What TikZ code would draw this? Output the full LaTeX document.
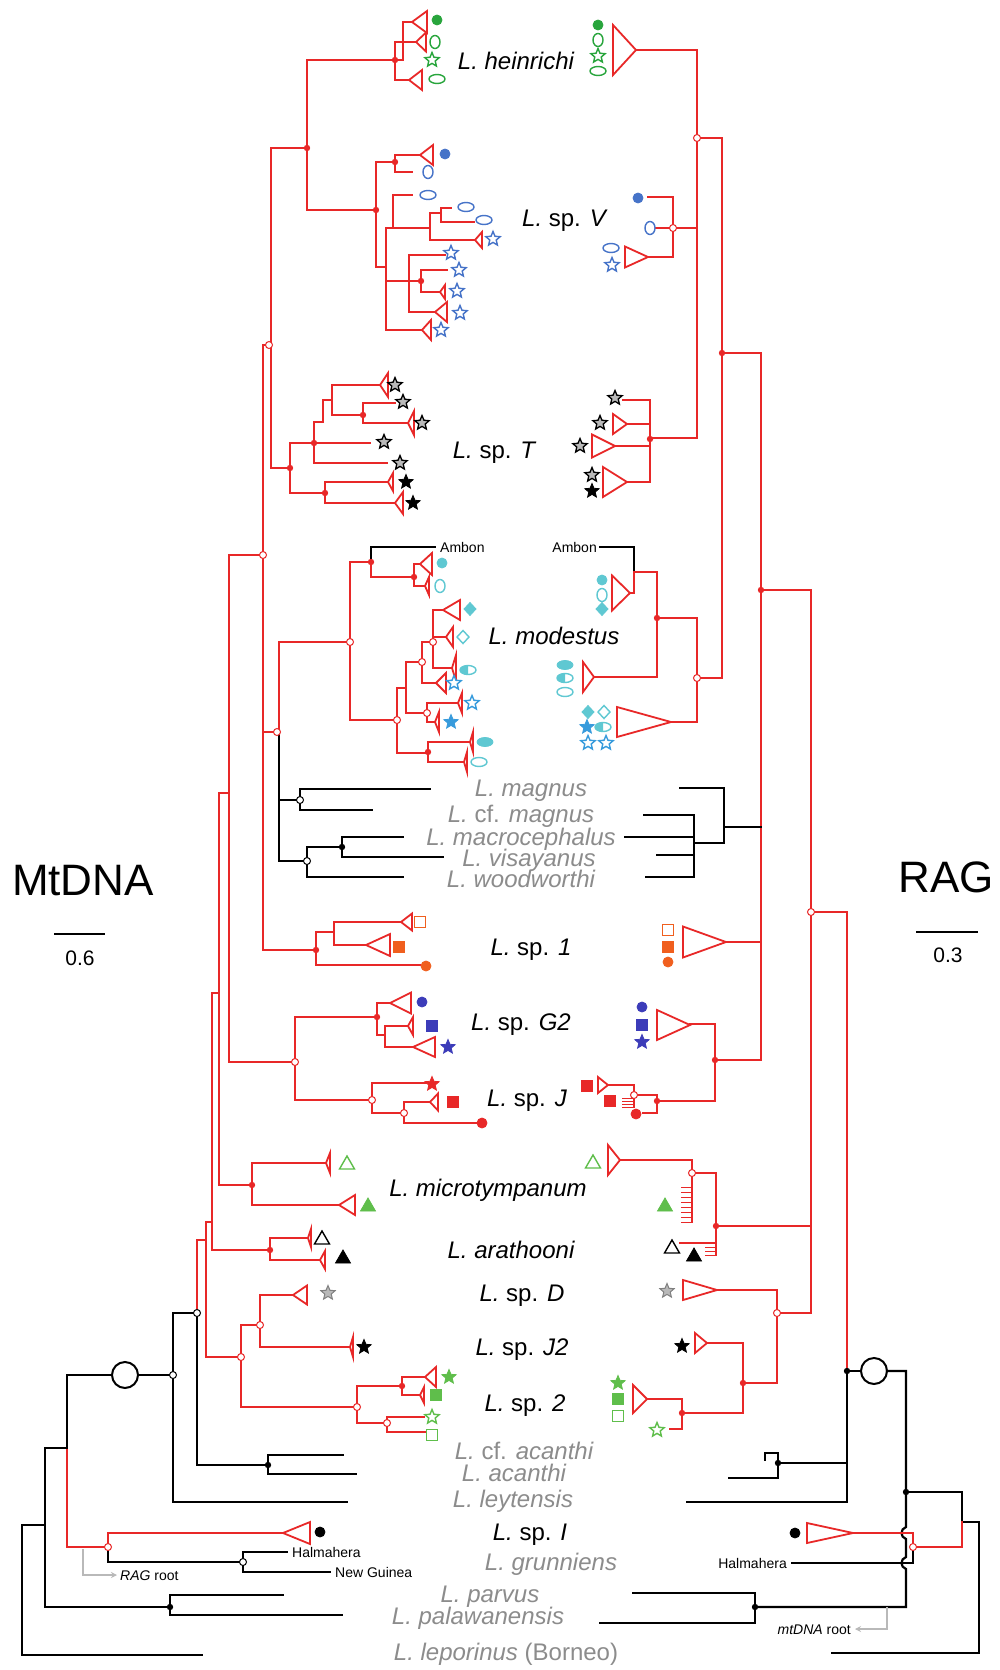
\documentclass[tikz,border=0pt]{standalone}
\usepackage{fontspec}
\setmainfont{Liberation Sans}
\usepackage{xcolor}
\usepackage{tikz}
\usetikzlibrary{arrows.meta}
\definecolor{phred}{RGB}{232,40,40}
\definecolor{phgreen}{RGB}{40,165,60}
\definecolor{phlgreen}{RGB}{95,190,75}
\definecolor{phblue}{RGB}{70,115,200}
\definecolor{phdblue}{RGB}{60,60,185}
\definecolor{phcyan}{RGB}{95,200,210}
\definecolor{phsky}{RGB}{55,155,220}
\definecolor{phorange}{RGB}{240,95,30}
\definecolor{phgry}{RGB}{140,140,140}
\definecolor{phlgray}{RGB}{185,185,185}
\tikzset{
  phbr/.style={draw=phred, line width=1.8pt, line cap=rect, line join=miter},
  phbk/.style={draw=black, line width=2.2pt, line cap=rect, line join=miter},
  phclade/.style={draw=phred, fill=white, line width=1.8pt, line join=miter},
  phlab/.style={font=\fontsize{24}{24}\selectfont, inner sep=0pt, anchor=base, yshift=-8.6pt},
  phglab/.style={phlab, text=phgry},
  phsmall/.style={font=\fontsize{14}{14}\selectfont, inner sep=0pt, yshift=-5pt},
  phbig/.style={font=\fontsize{44}{44}\selectfont, inner sep=0pt, anchor=base, yshift=-15.8pt},
  phnum/.style={font=\fontsize{21}{21}\selectfont, inner sep=0pt, anchor=base, yshift=-7.5pt},
  phopen/.style={draw=#1, fill=white, line width=1.4pt},
  phfull/.style={draw=#1, fill=#1, line width=0.8pt},
  phgstar/.style={draw=black, fill=phlgray, line width=1.3pt},
  pharrow/.style={draw=phlgray, line width=1.6pt, -{Stealth[length=6pt,width=6pt]}},
}
% clades: apex, width, height
\newcommand{\cladeL}[4]{\draw[phclade] (#1,#2) -- (#1+#3,#2-#4/2) -- (#1+#3,#2+#4/2) -- cycle;}
\newcommand{\cladeR}[4]{\draw[phclade] (#1,#2) -- (#1-#3,#2-#4/2) -- (#1-#3,#2+#4/2) -- cycle;}
% branch nodes
\newcommand{\nF}[2]{\fill[phred] (#1,#2) circle (3.2);}
\newcommand{\nO}[2]{\filldraw[fill=white, draw=phred, line width=1pt] (#1,#2) circle (3.5);}
\newcommand{\kF}[2]{\fill[black] (#1,#2) circle (3.2);}
\newcommand{\kO}[2]{\filldraw[fill=white, draw=black, line width=1pt] (#1,#2) circle (3.5);}
% tip symbols
\newcommand{\mStar}[3]{\path[#3, shift={(#1,#2)}, scale=7.5] (-90:1) -- (-54:0.45) -- (-18:1) -- (18:0.45) -- (54:1) -- (90:0.45) -- (126:1) -- (162:0.45) -- (198:1) -- (234:0.45) -- cycle;}
\newcommand{\mCirc}[3]{\path[#3] (#1,#2) circle (5);}
\newcommand{\mOval}[3]{\path[#3] (#1,#2) ellipse (5 and 6.5);}
\newcommand{\mEll}[3]{\path[#3] (#1,#2) ellipse (8 and 4.5);}
\newcommand{\mSq}[3]{\path[#3] (#1-5.5,#2-5.5) rectangle (#1+5.5,#2+5.5);}
\newcommand{\mTri}[3]{\path[#3] (#1,#2-7) -- (#1+7.5,#2+6) -- (#1-7.5,#2+6) -- cycle;}
\newcommand{\mDia}[3]{\path[#3] (#1,#2-6.5) -- (#1+6,#2) -- (#1,#2+6.5) -- (#1-6,#2) -- cycle;}
\newcommand{\mHalf}[2]{\begin{scope}\clip (#1-9,#2-6) rectangle (#1,#2+6); \fill[phcyan] (#1,#2) ellipse (8 and 4.5);\end{scope}\draw[phcyan, line width=1.4pt] (#1,#2) ellipse (8 and 4.5);}

\begin{document}
\begin{tikzpicture}[x=1pt, y=-1pt]
\fill[white] (0,0) rectangle (999,1670);
\useasboundingbox (0,0) rectangle (999,1670);

% ===== MtDNA tree =====
\draw[phbr] (307,148) -- (271,148) -- (271,468) -- (290,468);
\draw[phbr] (412,22) -- (403,22) -- (403,60) -- (307,60) -- (307,210) -- (376,210);
\draw[phbr] (416,42) -- (395,42) -- (395,80) -- (409,80);
\draw[phbr] (271,345) -- (263,345) -- (263,950) -- (316,950);
\draw[phbr] (263,555) -- (229,555) -- (229,1062) -- (295,1062);
\draw[phbr] (229,793) -- (219,793) -- (219,1185) -- (252,1185);
\draw[phbr] (219,993) -- (212,993) -- (212,1250) -- (270,1250);
\draw[phbr] (212,1222) -- (206,1222) -- (206,1357) -- (241,1357);
\draw[phbr] (206,1240) -- (197,1240) -- (197,1313);
\draw[phbr] (263,732) -- (279,732) -- (279,642) -- (350,642);
\nO{269}{345} \nO{263}{555}
% heinrichi
\cladeL{412}{22}{15}{22} \cladeL{416}{42}{10}{19} \cladeL{409}{80}{13}{20}
\nF{395}{60} \nF{307}{148}
\mCirc{437}{20}{phfull=phgreen} \mOval{435}{42}{phopen=phgreen}
\mStar{432}{60}{phopen=phgreen} \mEll{437}{79}{phopen=phgreen}
% sp V
\draw[phbr] (420,155) -- (395,155) -- (395,172) -- (412,172);
\draw[phbr] (395,162) -- (376,162) -- (376,267) -- (386,267);
\draw[phbr] (386,228) -- (386,330) -- (422,330);
\draw[phbr] (386,228) -- (430,228);
\draw[phbr] (412,195) -- (393,195) -- (393,228);
\draw[phbr] (430,213) -- (430,240) -- (475,240);
\draw[phbr] (430,213) -- (441,213);
\draw[phbr] (451,208) -- (441,208) -- (441,222) -- (474,222);
\draw[phbr] (386,281) -- (421,281);
\draw[phbr] (445,255) -- (409,255) -- (409,312) -- (435,312);
\draw[phbr] (447,270) -- (421,270) -- (421,292) -- (440,292);
\cladeL{420}{155}{13}{20} \cladeL{475}{240}{7}{16} \cladeL{435}{312}{12}{20}
\cladeL{440}{292}{5}{14} \cladeL{422}{330}{9}{20}
\nF{376}{210} \nF{395}{162} \nF{421}{281}
\mCirc{445}{154}{phfull=phblue} \mOval{428}{172}{phopen=phblue}
\mEll{428}{195}{phopen=phblue} \mEll{466}{207}{phopen=phblue} \mEll{484}{220}{phopen=phblue}
\mStar{493}{239}{phopen=phblue} \mStar{451}{253}{phopen=phblue} \mStar{459}{270}{phopen=phblue}
\mStar{457}{291}{phopen=phblue} \mStar{460}{313}{phopen=phblue} \mStar{441}{330}{phopen=phblue}
% sp T
\draw[phbr] (290,443) -- (290,493) -- (325,493);
\draw[phbr] (290,443) -- (370,443);
\draw[phbr] (314,422) -- (314,463) -- (387,463);
\draw[phbr] (314,422) -- (323,422) -- (323,400) -- (332,400);
\draw[phbr] (380,385) -- (332,385) -- (332,415) -- (363,415);
\draw[phbr] (395,403) -- (363,403) -- (363,423) -- (408,423);
\draw[phbr] (388,482) -- (325,482) -- (325,503) -- (395,503);
\cladeL{380}{385}{8}{24} \cladeL{408}{423}{6}{24} \cladeL{388}{482}{5}{18} \cladeL{395}{503}{8}{22}
\nF{290}{468} \nF{314}{443} \nF{363}{415} \nF{325}{493}
\mStar{395}{385}{phgstar} \mStar{403}{402}{phgstar} \mStar{422}{423}{phgstar}
\mStar{384}{442}{phgstar} \mStar{400}{463}{phgstar}
\mStar{406}{482}{phfull=black} \mStar{413}{503}{phfull=black}
% modestus
\draw[phbr] (371,562) -- (350,562) -- (350,720) -- (397,720);
\draw[phbk] (371,562) -- (371,547) -- (435,547);
\draw[phbr] (371,562) -- (371,577) -- (414,577);
\draw[phbr] (420,564) -- (414,564) -- (414,586) -- (425,586);
\draw[phbr] (397,688) -- (397,753) -- (428,753);
\draw[phbr] (397,688) -- (406,688);
\draw[phbr] (422,662) -- (406,662) -- (406,713) -- (427,713);
\draw[phbr] (436,683) -- (422,683) -- (422,642) -- (433,642);
\draw[phbr] (443,610) -- (433,610) -- (433,668) -- (452,668);
\draw[phbr] (433,637) -- (446,637);
\draw[phbr] (458,703) -- (427,703) -- (427,722) -- (435,722);
\draw[phbr] (470,742) -- (428,742) -- (428,762) -- (464,762);
\cladeL{420}{564}{12}{22} \cladeL{425}{586}{4}{18}
\cladeL{443}{610}{17}{20} \cladeL{446}{637}{7}{20} \cladeL{452}{668}{4}{26}
\cladeL{436}{683}{10}{20} \cladeL{458}{703}{4}{20} \cladeL{435}{722}{4}{20}
\cladeL{470}{742}{3}{20} \cladeL{464}{762}{3}{20}
\nO{350}{642} \nF{371}{562} \nF{414}{577} \nO{433}{642} \nO{422}{662}
\nO{427}{713} \nO{397}{720} \nF{428}{752}
\mCirc{442}{563}{phfull=phcyan} \mOval{440}{586}{phopen=phcyan}
\mDia{470}{609}{phfull=phcyan} \mDia{463}{637}{phopen=phcyan} \mHalf{468}{670}
\mStar{454}{683}{phopen=phsky} \mStar{472}{703}{phopen=phsky} \mStar{451}{722}{phfull=phsky}
\mEll{485}{742}{phfull=phcyan} \mEll{479}{762}{phopen=phcyan}
% magnus group
\draw[phbk] (279,732) -- (279,861) -- (307,861);
\draw[phbk] (279,800) -- (300,800);
\draw[phbk] (430,789) -- (300,789) -- (300,810) -- (372,810);
\draw[phbk] (342,847) -- (307,847) -- (307,877) -- (403,877);
\draw[phbk] (403,837) -- (342,837) -- (342,857) -- (443,857);
\nO{277}{732} \kO{300}{800} \kO{307}{861} \kF{342}{847}
% sp 1
\draw[phbr] (334,932) -- (316,932) -- (316,965) -- (420,965);
\draw[phbr] (401,922) -- (334,922) -- (334,945) -- (366,945);
\cladeL{401}{922}{11}{17} \cladeL{366}{945}{24}{22}
\nF{316}{950}
\mSq{420}{922}{phopen=phorange} \mSq{399}{947}{phfull=phorange} \mCirc{426}{966}{phfull=phorange}
% sp G2, sp J
\draw[phbr] (377,1017) -- (295,1017) -- (295,1100) -- (372,1100);
\draw[phbr] (390,1003) -- (377,1003) -- (377,1035) -- (385,1035);
\draw[phbr] (408,1026) -- (385,1026) -- (385,1047) -- (413,1047);
\draw[phbr] (426,1083) -- (372,1083) -- (372,1113) -- (404,1113);
\draw[phbr] (430,1102) -- (404,1102) -- (404,1123) -- (478,1123);
\cladeL{390}{1003}{21}{21} \cladeL{408}{1026}{5}{18} \cladeL{413}{1047}{22}{20} \cladeL{430}{1102}{8}{17}
\nF{377}{1017} \nO{295}{1062} \nO{372}{1100} \nO{404}{1113}
\mCirc{422}{1002}{phfull=phdblue} \mSq{432}{1026}{phfull=phdblue} \mStar{448}{1047}{phfull=phdblue}
\mStar{432}{1084}{phfull=phred} \mSq{453}{1102}{phfull=phred} \mCirc{482}{1123}{phfull=phred}
% microtympanum, arathooni
\draw[phbr] (326,1163) -- (252,1163) -- (252,1205) -- (339,1205);
\draw[phbr] (308,1238) -- (270,1238) -- (270,1260) -- (320,1260);
\cladeL{326}{1163}{4}{20} \cladeL{339}{1205}{16}{20} \cladeL{308}{1238}{3}{18} \cladeL{320}{1260}{5}{18}
\nF{252}{1185} \nF{270}{1250}
\mTri{347}{1163}{phopen=phlgreen} \mTri{368}{1205}{phfull=phlgreen}
\mTri{322}{1238}{phopen=black} \mTri{343}{1257}{phfull=black}
% sp D, J2, 2
\draw[phbr] (260,1325) -- (241,1325) -- (241,1407) -- (357,1407);
\draw[phbr] (293,1295) -- (260,1295) -- (260,1347) -- (350,1347);
\draw[phbr] (402,1386) -- (357,1386) -- (357,1423) -- (387,1423);
\draw[phbr] (425,1377) -- (402,1377) -- (402,1395) -- (420,1395);
\draw[phbr] (424,1417) -- (387,1417) -- (387,1432) -- (425,1432);
\cladeL{293}{1295}{14}{19} \cladeL{350}{1347}{3}{20} \cladeL{425}{1377}{11}{20} \cladeL{420}{1395}{4}{16}
\nO{241}{1357} \nO{260}{1325} \nO{357}{1407} \nF{402}{1386} \nO{387}{1423}
\mStar{328}{1293}{draw=gray, fill=phlgray, line width=1pt} \mStar{364}{1347}{phfull=black}
\mStar{449}{1377}{phfull=phlgreen} \mSq{436}{1395}{phfull=phlgreen}
\mStar{432}{1417}{phopen=phlgreen} \mSq{432}{1435}{phopen=phlgreen}
% outgroups
\draw[phbk] (197,1313) -- (197,1465) -- (268,1465);
\draw[phbk] (343,1455) -- (268,1455) -- (268,1474) -- (356,1474);
\draw[phbk] (197,1313) -- (173,1313) -- (173,1502) -- (347,1502);
\draw[phbk] (173,1375) -- (138,1375);
\draw[phbk, line width=2pt] (125,1375) circle (13);
\draw[phbk] (112,1375) -- (67,1375) -- (67,1448);
\draw[phbr] (67,1448) -- (67,1547) -- (108,1547);
\draw[phbk] (67,1448) -- (45,1448) -- (45,1607) -- (170,1607);
\draw[phbk] (45,1525) -- (22,1525) -- (22,1655) -- (202,1655);
\draw[phbr] (283,1533) -- (108,1533) -- (108,1547);
\draw[phbk] (108,1547) -- (108,1562) -- (243,1562);
\draw[phbk] (287,1552) -- (243,1552) -- (243,1572) -- (330,1572);
\draw[phbk] (283,1595) -- (170,1595) -- (170,1615) -- (342,1615);
\cladeL{283}{1533}{27}{22}
\kO{197}{1313} \kO{173}{1375} \kF{268}{1465} \nO{108}{1547} \kO{243}{1562} \kF{170}{1607}
\mCirc{320}{1532}{phfull=black}
\draw[pharrow] (83,1549) -- (83,1575) -- (117,1575);

% ===== RAG tree =====
\draw[phbr] (636,50) -- (697,50) -- (697,438) -- (650,438);
\draw[phbr] (697,138) -- (722,138) -- (722,678) -- (697,678);
\draw[phbr] (722,353) -- (761,353) -- (761,1060) -- (715,1060);
\draw[phbr] (697,228) -- (656,228);
\draw[phbr] (648,197) -- (673,197) -- (673,257) -- (648,257);
\cladeR{636}{50}{23}{50} \cladeR{648}{257}{23}{21}
\nO{697}{138} \nF{722}{353} \nO{673}{228}
\mCirc{598}{25}{phfull=phgreen} \mOval{598}{40}{phopen=phgreen}
\mStar{598}{56}{phopen=phgreen} \mEll{598}{71}{phopen=phgreen}
\mCirc{638}{198}{phfull=phblue} \mOval{650}{228}{phopen=phblue}
\mEll{611}{248}{phopen=phblue} \mStar{612}{265}{phopen=phblue}
% sp T
\draw[phbr] (623,400) -- (650,400) -- (650,482) -- (627,482);
\draw[phbr] (627,424) -- (650,424);
\draw[phbr] (615,446) -- (650,446);
\cladeR{627}{424}{14}{20} \cladeR{615}{446}{23}{23} \cladeR{627}{482}{24}{30}
\nF{650}{439}
\mStar{615}{398}{phgstar} \mStar{600}{423}{phgstar} \mStar{580}{446}{phgstar}
\mStar{592}{475}{phgstar} \mStar{592}{491}{phfull=black}
% modestus
\draw[phbk] (600,547) -- (634,547) -- (634,572);
\draw[phbr] (634,572) -- (634,593) -- (630,593);
\draw[phbr] (634,572) -- (657,572) -- (657,677) -- (594,677);
\draw[phbr] (657,618) -- (697,618) -- (697,722) -- (671,722);
\cladeR{630}{593}{18}{35} \cladeR{594}{677}{11}{30} \cladeR{671}{722}{54}{30}
\nF{657}{618} \nO{697}{678}
\mCirc{602}{580}{phfull=phcyan} \mOval{602}{595}{phopen=phcyan} \mDia{602}{609}{phfull=phcyan}
\mEll{565}{665}{phfull=phcyan} \mHalf{565}{678} \mEll{565}{692}{phopen=phcyan}
\mDia{588}{712}{phfull=phcyan} \mDia{604}{712}{phopen=phcyan}
\mStar{587}{727}{phfull=phsky} \mHalf{603}{727}
\mStar{588}{743}{phopen=phsky} \mStar{606}{743}{phopen=phsky}
% magnus group
\draw[phbk] (680,788) -- (724,788) -- (724,843) -- (694,843);
\draw[phbk] (724,827) -- (761,827);
\draw[phbk] (644,815) -- (694,815) -- (694,877) -- (646,877);
\draw[phbk] (625,837) -- (694,837);
\draw[phbk] (657,855) -- (694,855);
% sp 1
\draw[phbr] (726,942) -- (761,942);
\cladeR{726}{942}{43}{31}
\mSq{668}{930}{phopen=phorange} \mSq{668}{947}{phfull=phorange} \mCirc{668}{962}{phfull=phorange}
% sp G2, sp J
\draw[phbr] (690,1024) -- (715,1024) -- (715,1101) -- (657,1101);
\draw[phbr] (608,1085) -- (634,1085) -- (634,1107);
\draw[phbr] (634,1095) -- (657,1095) -- (657,1113) -- (643,1113);
\foreach \yy in {1098,1101,1104,1107} \draw[phred, line width=1pt] (622,\yy) -- (634,\yy);
\cladeR{690}{1025}{33}{30} \cladeR{608}{1085}{10}{16}
\nF{715}{1060} \nO{634}{1095} \nF{657}{1101}
\mCirc{642}{1007}{phfull=phdblue} \mSq{642}{1025}{phfull=phdblue} \mStar{642}{1042}{phfull=phdblue}
\mSq{587}{1086}{phfull=phred} \mSq{610}{1101}{phfull=phred} \mCirc{636}{1114}{phfull=phred}
% microtympanum, arathooni
\draw[phbr] (620,1160) -- (692,1160) -- (692,1222);
\draw[phbr] (692,1173) -- (716,1173) -- (716,1255);
\draw[phbr] (680,1243) -- (716,1243);
\foreach \yy in {1187,1192,...,1222} \draw[phred, line width=1pt] (681,\yy) -- (692,\yy);
\foreach \yy in {1247,1251,1255} \draw[phred, line width=1pt] (705,\yy) -- (716,\yy);
\cladeR{620}{1160}{12}{30}
\nO{692}{1173} \nF{716}{1226}
\mTri{593}{1162}{phopen=phlgreen} \mTri{665}{1205}{phfull=phlgreen}
\mTri{672}{1247}{phopen=black} \mTri{694}{1255}{phfull=black}
% backbone
\draw[phbr] (761,590) -- (811,590) -- (811,1313);
\draw[phbr] (716,1226) -- (811,1226);
\draw[phbr] (811,912) -- (847,912) -- (847,1371);
\nF{761}{590} \nO{811}{912}
% sp D, J2, 2
\draw[phbr] (717,1290) -- (777,1290) -- (777,1383) -- (743,1383);
\draw[phbr] (777,1313) -- (811,1313);
\draw[phbr] (707,1343) -- (743,1343) -- (743,1413) -- (682,1413);
\draw[phbr] (647,1399) -- (682,1399) -- (682,1429) -- (670,1429);
\cladeR{717}{1290}{34}{20} \cladeR{707}{1343}{12}{20} \cladeR{647}{1399}{14}{28}
\nO{777}{1313} \nF{743}{1383} \nF{682}{1413}
\mStar{667}{1291}{draw=gray, fill=phlgray, line width=1pt} \mStar{682}{1346}{phfull=black}
\mStar{618}{1383}{phfull=phlgreen} \mSq{618}{1399}{phfull=phlgreen}
\mSq{618}{1416}{phopen=phlgreen} \mStar{657}{1430}{phopen=phlgreen}
% outgroups
\draw[phbk] (847,1371) -- (847,1502) -- (687,1502);
\draw[phbk] (847,1463) -- (778,1463);
\draw[phbk] (765,1460) -- (765,1453) -- (778,1453) -- (778,1478) -- (729,1478);
\draw[phbk] (847,1371) -- (861,1371);
\draw[phbk, line width=2pt] (874,1371) circle (13);
\draw[phbk] (887,1371) -- (906,1371) -- (906,1527) .. controls (900,1529) and (900,1537) .. (906,1539) -- (906,1557) .. controls (900,1559) and (900,1567) .. (906,1569) -- (906,1607) -- (755,1607);
\draw[phbk] (906,1492) -- (962,1492) -- (962,1522) -- (979,1522) -- (979,1653) -- (832,1653);
\draw[phbr] (962,1522) -- (962,1547) -- (913,1547) -- (913,1533) -- (853,1533);
\draw[phbk] (913,1547) -- (913,1563) -- (792,1563);
\draw[phbk] (633,1593) -- (755,1593) -- (755,1623) -- (600,1623);
\cladeR{853}{1533}{46}{20}
\kF{847}{1371} \kF{778}{1463} \kF{906}{1492} \nO{913}{1547} \kF{755}{1607}
\mCirc{795}{1533}{phfull=black}
\draw[pharrow] (887,1607) -- (887,1629) -- (855,1629);

% ===== labels =====
\node[phlab] (hein) at (516,61) {\itshape L. heinrichi};
\node[phlab] (spv) at (564,218) {{\itshape L.} sp. {\itshape V}};
\node[phlab] (spt) at (494,450) {{\itshape L.} sp. {\itshape T}};
\node[phlab] (modest) at (554,636) {\itshape L. modestus};
\node[phglab] (magn) at (531,788) {\itshape L. magnus};
\node[phglab] (cfmagn) at (521,814) {{\itshape L.} cf. {\itshape magnus}};
\node[phglab] (macro) at (521,837) {\itshape L. macrocephalus};
\node[phglab] (visay) at (529,858) {\itshape L. visayanus};
\node[phglab] (woodw) at (521,879) {\itshape L. woodworthi};
\node[phlab] (spone) at (531,947) {{\itshape L.} sp. {\itshape 1}};
\node[phlab] (spgtwo) at (521,1022) {{\itshape L.} sp. {\itshape G2}};
\node[phlab] (spj) at (527,1098) {{\itshape L.} sp. {\itshape J}};
\node[phlab] (micro) at (488,1188) {\itshape L. microtympanum};
\node[phlab] (arath) at (511,1250) {\itshape L. arathooni};
\node[phlab] (spd) at (522,1293) {{\itshape L.} sp. {\itshape D}};
\node[phlab] (spjtwo) at (522,1347) {{\itshape L.} sp. {\itshape J2}};
\node[phlab] (sptwo) at (525,1403) {{\itshape L.} sp. {\itshape 2}};
\node[phglab] (cfacan) at (524,1451) {{\itshape L.} cf. {\itshape acanthi}};
\node[phglab] (acan) at (514,1473) {\itshape L. acanthi};
\node[phglab] (leyt) at (513,1499) {\itshape L. leytensis};
\node[phlab] (spi) at (530,1532) {{\itshape L.} sp. {\itshape I}};
\node[phglab] (grun) at (551,1562) {\itshape L. grunniens};
\node[phglab] (parv) at (490,1594) {\itshape L. parvus};
\node[phglab] (palaw) at (478,1616) {\itshape L. palawanensis};
\node[phglab] (lepor) at (506,1652) {{\itshape L. leporinus} (Borneo)};
\node[phsmall, anchor=base west] (ambonl) at (440,547) {Ambon};
\node[phsmall, anchor=base east] (ambonr) at (597,547) {Ambon};
\node[phsmall, anchor=base west] (halml) at (292,1552) {Halmahera};
\node[phsmall, anchor=base west] (nguin) at (335,1572) {New Guinea};
\node[phsmall, anchor=base east] (halmr) at (787,1563) {Halmahera};
\node[phsmall, anchor=base west] (ragroot) at (120,1575) {{\itshape RAG} root};
\node[phsmall, anchor=base east] (mtroot) at (851,1629) {{\itshape mtDNA} root};
\node[phbig] (mtdna) at (83,880) {MtDNA};
\node[phbig] (rag) at (946,877) {RAG};
\draw[black, line width=1.8pt] (54,934) -- (105,934);
\draw[black, line width=1.8pt] (916,932) -- (978,932);
\node[phnum] (barl) at (80,958) {0.6};
\node[phnum] (barr) at (948,955) {0.3};
\end{tikzpicture}
\end{document}
